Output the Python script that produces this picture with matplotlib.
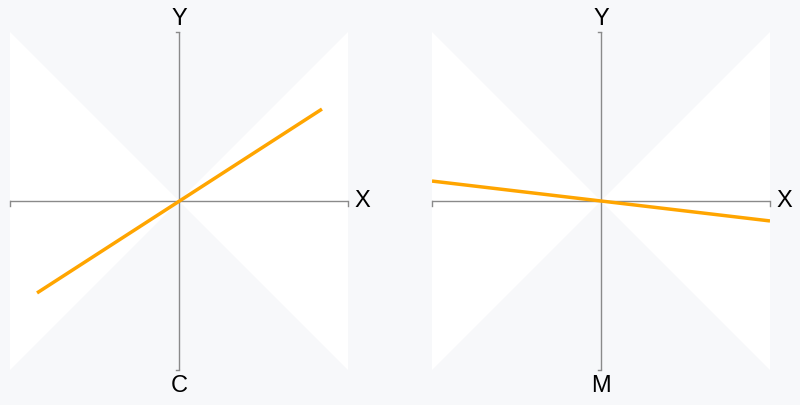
import matplotlib
matplotlib.use("Agg")
import matplotlib.pyplot as plt

plt.rcParams["font.family"] = ["Liberation Sans", "DejaVu Sans"]

BG = "#f7f8fa"
AXIS = "#8a8a8a"
LINE = "#ffa500"

# panel labels and line endpoints (data coords, axes span -1..1)
panels = ["C", "M"]
line_x = [[-0.84, 0.846], [-1.0, 1.0]]
line_y = [[-0.544, 0.544], [0.118, -0.118]]

fig = plt.figure(figsize=(8, 4.05), dpi=100, facecolor=BG)
lefts = [10 / 800, 432 / 800]

for left, name, xs, ys in zip(lefts, panels, line_x, line_y):
    ax = fig.add_axes([left, 35 / 405, 338 / 800, 338 / 405])
    ax.set_xlim(-1, 1); ax.set_ylim(-1, 1)
    ax.axis("off")
    ax.fill([0, -1, -1], [0, 1, -1], color="white", lw=0)
    ax.fill([0, 1, 1], [0, 1, -1], color="white", lw=0)
    ax.plot([-1, 1], [0, 0], color=AXIS, lw=1)
    ax.plot([0, 0], [-1, 1], color=AXIS, lw=1)
    # small end ticks
    for yy in (-1, 1):
        ax.plot([-0.015, 0], [yy, yy], color=AXIS, lw=1, clip_on=False)
    for xx in (-1, 1):
        ax.plot([xx, xx], [0, -0.03], color=AXIS, lw=1, clip_on=False)
    ax.plot(xs, ys, color=LINE, lw=2.5, solid_capstyle="butt")
    ax.text(0, 1.01, "Y", ha="center", va="bottom", fontsize=17)
    ax.text(0, -1.03, name, ha="center", va="top", fontsize=17)
    ax.text(1.04, 0, "X", ha="left", va="center", fontsize=17, clip_on=False)

fig.savefig("out.png", dpi=100, facecolor=BG)
